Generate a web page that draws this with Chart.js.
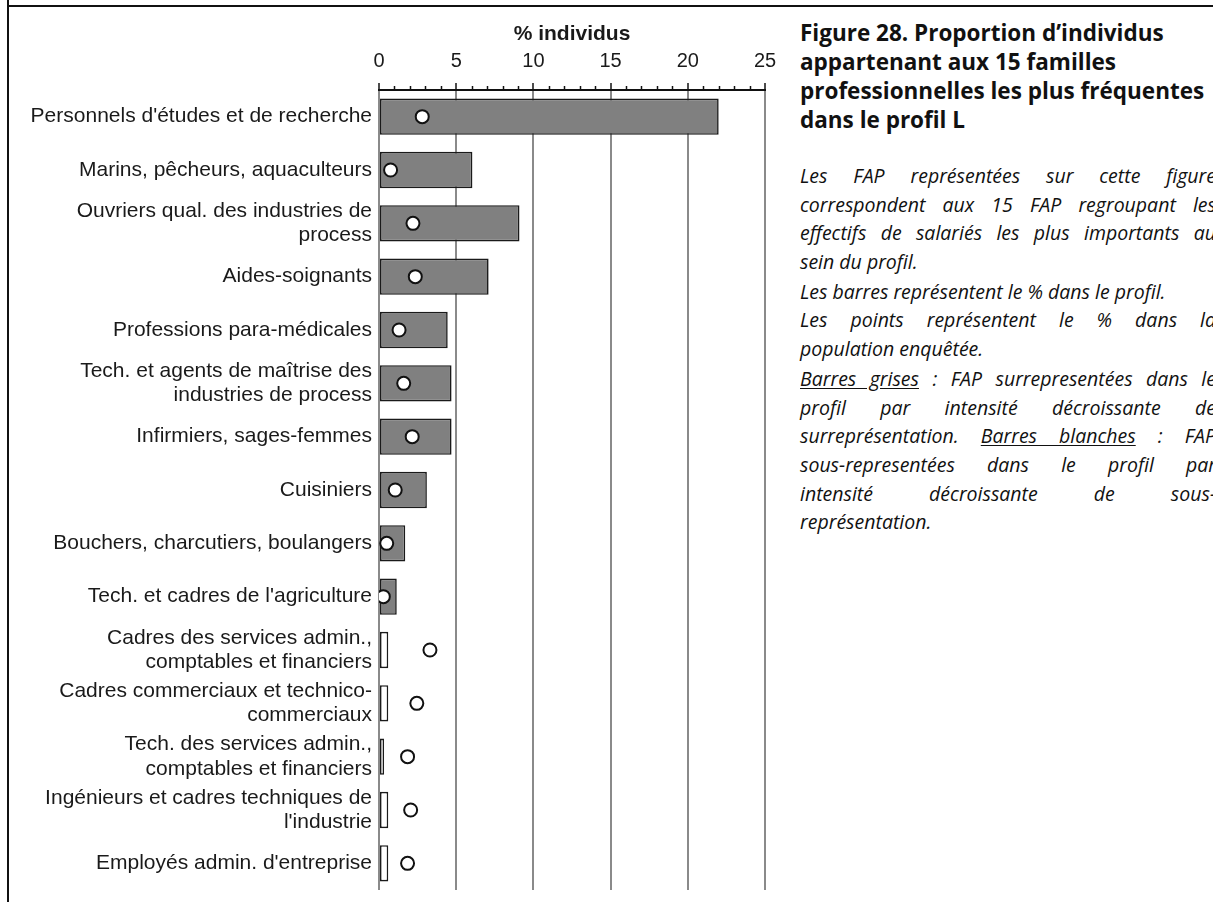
<!DOCTYPE html>
<html lang="fr">
<head>
<meta charset="utf-8">
<title>Figure 28</title>
<script src="https://cdn.jsdelivr.net/npm/chart.js@4.4.1/dist/chart.umd.min.js"></script>
<style>
  html, body { margin: 0; padding: 0; background: #fff; }
  body { width: 1213px; height: 902px; overflow: hidden; position: relative; }
  #frameTop { position: absolute; left: 7px; top: 5px; width: 1210px; height: 2px; background: #111; }
  #frameLeft { position: absolute; left: 7px; top: 0; width: 2px; height: 902px; background: #111; }
  #chartBox { position: absolute; left: 0; top: 0; width: 790px; height: 902px; }
  #notes { position: absolute; left: 800px; top: 18px; width: 416px; color: #111; font-family: "Open Sans", Lato, sans-serif; }
  #notes h2 { margin: 0; font-size: 22.5px; font-weight: 700; line-height: 29px; }
  #notes .para { font-style: italic; font-size: 19.5px; line-height: 28.7px; }
  #notes .para div { height: 28.7px; white-space: nowrap; }
  #notes .para div.j { white-space: normal; text-align: justify; text-align-last: justify; }
  #notes .p1 { margin-top: 28px; }
  #notes .p2, #notes .p3 { margin-top: 1px; }
  u { text-underline-offset: 2px; }
</style>
</head>
<body>
<div id="chartBox"><canvas id="chart" width="790" height="902"></canvas></div>
<div id="frameTop"></div>
<div id="frameLeft"></div>

<div id="notes">
  <h2>Figure 28. Proportion d’individus<br>appartenant aux 15 familles<br>professionnelles les plus fréquentes<br>dans le profil L</h2>
  <div class="para p1">
    <div class="j">Les FAP représentées sur cette figure</div>
    <div class="j">correspondent aux 15 FAP regroupant les</div>
    <div class="j">effectifs de salariés les plus importants au</div>
    <div>sein du profil.</div>
  </div>
  <div class="para p2">
    <div>Les barres représentent le % dans le profil.</div>
    <div class="j">Les points représentent le % dans la</div>
    <div>population enquêtée.</div>
  </div>
  <div class="para p3">
    <div class="j"><u>Barres grises</u> : FAP surrepresentées dans le</div>
    <div class="j">profil par intensité décroissante de</div>
    <div class="j">surreprésentation. <u>Barres blanches</u> : FAP</div>
    <div class="j">sous-representées dans le profil par</div>
    <div class="j">intensité décroissante de sous-</div>
    <div>représentation.</div>
  </div>
</div>

<script>
// Familles professionnelles (FAP), dans l'ordre du graphique
const categories = [
    "Personnels d'études et de recherche",
    'Marins, pêcheurs, aquaculteurs',
    ['Ouvriers qual. des industries de', 'process'],
    'Aides-soignants',
    'Professions para-médicales',
    ['Tech. et agents de maîtrise des', 'industries de process'],
    'Infirmiers, sages-femmes',
    'Cuisiniers',
    'Bouchers, charcutiers, boulangers',
    "Tech. et cadres de l'agriculture",
    ['Cadres des services admin.,', 'comptables et financiers'],
    ['Cadres commerciaux et technico-', 'commerciaux'],
    ['Tech. des services admin.,', 'comptables et financiers'],
    ['Ingénieurs et cadres techniques de', "l'industrie"],
    "Employés admin. d'entreprise"
];

// % dans le profil L (barres)
const profilValues = [22.0, 6.05, 9.1, 7.1, 4.45, 4.7, 4.7, 3.1, 1.7, 1.15, 0.6, 0.6, 0.33, 0.6, 0.6];

// % dans la population enquêtée (points)
const populationValues = [2.8, 0.75, 2.2, 2.35, 1.3, 1.6, 2.15, 1.05, 0.5, 0.28, 3.3, 2.45, 1.85, 2.05, 1.85];

// graduations de l'axe du haut
const majorTicks = [0, 5, 10, 15, 20, 25];

// gray = surreprésentée, white = sous-représentée
const barColors = profilValues.map((v, i) => v > populationValues[i] ? '#808080' : '#ffffff');

const textColor = '#1a1a1a';

// small tick marks every 1% between the labelled ones
const minorTickPlugin = {
    id: 'minorTicks',
    afterDraw(chart) {
        const xs = chart.scales.x;
        const ctx = chart.ctx;
        ctx.save();
        ctx.strokeStyle = '#111';
        ctx.lineWidth = 1.5;
        for (let v = xs.min; v <= xs.max; v++) {
            if (majorTicks.includes(v)) continue;
            const px = Math.round(xs.getPixelForValue(v)) + 0.5;
            ctx.beginPath();
            ctx.moveTo(px, xs.bottom);
            ctx.lineTo(px, xs.bottom - 4);
            ctx.stroke();
        }
        ctx.restore();
    }
};

const ctx = document.getElementById('chart').getContext('2d');

new Chart(ctx, {
    type: 'bar',
    data: {
        labels: categories,
        datasets: [
            {
                type: 'line',
                indexAxis: 'y',
                data: populationValues,
                showLine: false,
                pointRadius: 6.5,
                pointBackgroundColor: '#ffffff',
                pointBorderColor: '#111',
                pointBorderWidth: 2,
                order: 0
            },
            {
                type: 'bar',
                indexAxis: 'y',
                data: profilValues,
                backgroundColor: barColors,
                borderColor: '#1a1a1a',
                borderWidth: 1.6,
                borderSkipped: false,
                barPercentage: 0.68,
                categoryPercentage: 1.0,
                order: 1
            }
        ]
    },
    options: {
        indexAxis: 'y',
        responsive: false,
        animation: false,
        layout: {
            padding: { top: 0, right: 25, bottom: 12, left: 0 }
        },
        plugins: {
            legend: { display: false },
            tooltip: { enabled: false }
        },
        scales: {
            x: {
                position: 'top',
                min: 0,
                max: 25,
                afterFit(scale) { scale.height = 90; },
                afterBuildTicks(scale) {
                    scale.ticks = majorTicks.map(v => ({ value: v }));
                },
                title: {
                    display: true,
                    text: '% individus',
                    color: textColor,
                    font: { family: '"Liberation Sans", Arial, sans-serif', size: 21, weight: 'bold' },
                    padding: { top: 22, bottom: 0 }
                },
                ticks: {
                    color: textColor,
                    font: { family: '"Liberation Sans", Arial, sans-serif', size: 20 },
                    padding: 10,
                    maxRotation: 0
                },
                grid: {
                    color: '#8a8a8a',
                    lineWidth: 2,
                    tickColor: '#111',
                    tickWidth: 1.5,
                    tickLength: 7
                },
                border: { display: true, color: '#111', width: 2 }
            },
            y: {
                afterFit(scale) {
                    scale.width = 379;
                    scale.paddingTop = 0;
                    scale.paddingBottom = 0;
                },
                ticks: {
                    color: textColor,
                    font: { family: '"Liberation Sans", Arial, sans-serif', size: 21, lineHeight: 1.16 },
                    padding: 7
                },
                grid: { display: false, drawTicks: false },
                border: { display: false }
            }
        }
    },
    plugins: [minorTickPlugin]
});
</script>
</body>
</html>
